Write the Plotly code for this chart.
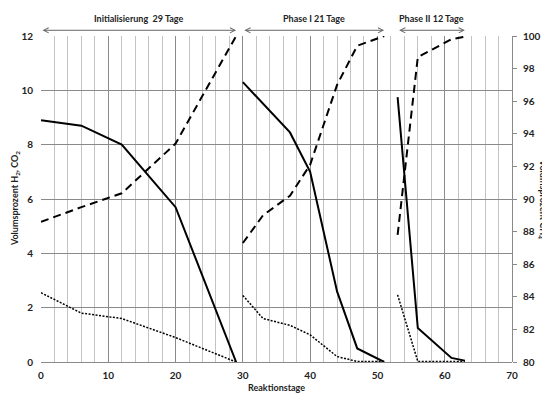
import plotly.graph_objects as go

# Days per phase
days_init = [0, 6, 12, 20, 29]
days_p1 = [30, 33, 37, 40, 44, 47, 51]
days_p2 = [53, 56, 61, 63]

# H2 (left axis, solid)
h2_init = [8.9, 8.7, 8.0, 5.7, 0.0]
h2_p1 = [10.3, 9.5, 8.45, 7.0, 2.6, 0.5, 0.0]
h2_p2 = [9.75, 1.25, 0.15, 0.05]

# CO2 (left axis, dotted)
co2_init = [2.55, 1.8, 1.6, 0.9, 0.0]
co2_p1 = [2.45, 1.6, 1.35, 1.0, 0.2, 0.02, 0.02]
co2_p2 = [2.47, 0.02, 0.02, 0.02]

# CH4 (right axis, dashed)
ch4_init = [88.6, 89.5, 90.35, 93.4, 100.0]
ch4_p1 = [87.3, 89.0, 90.2, 92.1, 97.0, 99.4, 100.0]
ch4_p2 = [87.8, 98.7, 99.8, 99.95]

phase_labels = ["Initialisierung  29 Tage", "Phase I 21 Tage", "Phase II 12 Tage"]
phase_start = [0, 30, 53]
phase_end = [29, 51, 63]

x_title = "Reaktionstage"
y_title = "Volumsprozent H<sub>2</sub>, CO<sub>2</sub>"
y2_title = "Volumsprozent CH<sub>4</sub>"

def join(*parts):
    out = []
    for i, p in enumerate(parts):
        if i:
            out.append(None)
        out.extend(p)
    return out

x_all = join(days_init, days_p1, days_p2)

FONT = "Lato"
TXT = "#222"
fig = go.Figure()
fig.add_trace(go.Scatter(x=x_all, y=join(h2_init, h2_p1, h2_p2), mode="lines",
                         line=dict(color="black", width=2), showlegend=False))
fig.add_trace(go.Scatter(x=x_all, y=join(co2_init, co2_p1, co2_p2), mode="lines",
                         line=dict(color="black", width=1.5, dash="2px,1.5px"), showlegend=False))
fig.add_trace(go.Scatter(x=x_all, y=join(ch4_init, ch4_p1, ch4_p2), mode="lines", yaxis="y2",
                         line=dict(color="black", width=2, dash="8px,5px"), showlegend=False))

for lab, s, e in zip(phase_labels, phase_start, phase_end):
    fig.add_annotation(x=e, y=1.0175, xref="x", yref="paper",
                       ax=s, ay=0, axref="x", ayref="pixel",
                       showarrow=True, arrowside="end+start", arrowhead=5, startarrowhead=5,
                       arrowsize=1, startarrowsize=1, arrowwidth=1, arrowcolor="#666", text="")
    fig.add_annotation(x=(s + e) / 2, y=1.053, xref="x", yref="paper", text="<b>%s</b>" % lab,
                       showarrow=False, font=dict(family=FONT, size=9, color=TXT),
                       yanchor="middle")

fig.add_annotation(x=0.5, y=-0.079, xref="paper", yref="paper", text="<b>%s</b>" % x_title,
                   showarrow=False, font=dict(family=FONT, size=9, color=TXT),
                   xanchor="center", yanchor="middle")
fig.add_annotation(x=-0.055, y=0.5, xref="paper", yref="paper", text="<b>%s</b>" % y_title,
                   showarrow=False, textangle=-90, font=dict(family=FONT, size=9, color=TXT),
                   xanchor="center", yanchor="middle")
fig.add_annotation(x=1.066, y=0.5, xref="paper", yref="paper", text="<b>%s</b>" % y2_title,
                   showarrow=False, textangle=90, font=dict(family=FONT, size=9, color=TXT),
                   xanchor="center", yanchor="middle")

tickfont = dict(family=FONT, size=10, color=TXT, weight="bold")
# page body adds an 8px offset, so the figure is sized to fill the rest of the window
fig.update_layout(
    width=542, height=385,
    margin=dict(l=33, r=38, t=28, b=31),
    plot_bgcolor="white", paper_bgcolor="white",
    font=dict(family=FONT, size=10, color=TXT),
    xaxis=dict(range=[0, 70], dtick=10, tick0=0, showgrid=True, gridcolor="#8a8a8a", gridwidth=1,
               minor=dict(dtick=2, showgrid=True, gridcolor="#c4c4c4", gridwidth=1),
               zeroline=False, showline=False, ticks="", automargin=False,
               ticklabelstandoff=6, tickfont=tickfont),
    yaxis=dict(range=[0, 12], dtick=2, showgrid=True, gridcolor="#8a8a8a", gridwidth=1,
               zeroline=True, zerolinecolor="#8a8a8a", zerolinewidth=1, showline=False, ticks="",
               automargin=False, ticklabelstandoff=7, tickfont=tickfont),
    yaxis2=dict(range=[80, 100], dtick=2, overlaying="y", side="right", showgrid=False,
                zeroline=False, showline=True, linecolor="#8a8a8a", ticks="outside", ticklen=4,
                tickcolor="#8a8a8a", automargin=False, ticklabelstandoff=4, tickfont=tickfont),
)
fig.write_html("out.html")
